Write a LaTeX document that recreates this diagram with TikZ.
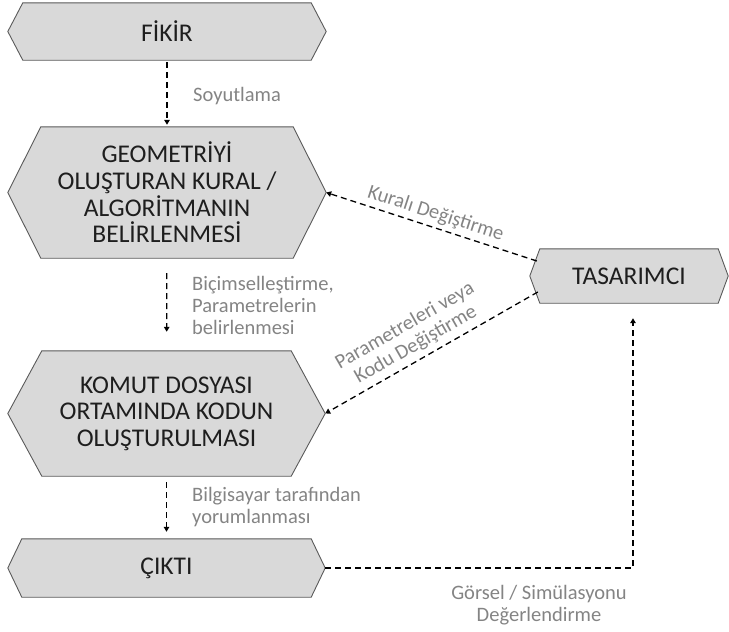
\documentclass[tikz,border=0pt]{standalone}
\usepackage{fontspec}
\setmainfont{Carlito}
\usetikzlibrary{calc,arrows.meta,backgrounds}
\definecolor{boxfill}{HTML}{D9D9D9}
\definecolor{boxline}{HTML}{5A5A5A}
\definecolor{lblcol}{HTML}{848484}
\definecolor{boxtxt}{HTML}{1E1E1E}
\newcommand\drawhex[2]{\filldraw[hexshape] (#1.west) -- ([xshift=#2pt]#1.north west) -- ([xshift=-#2pt]#1.north east) -- (#1.east) -- ([xshift=-#2pt]#1.south east) -- ([xshift=#2pt]#1.south west) -- cycle;}
\begin{document}
\begin{tikzpicture}[x=1pt,y=-1pt,
  hexshape/.style={fill=boxfill, draw=boxline, line width=0.9pt, line join=miter},
  boxnode/.style={inner sep=0pt, text=boxtxt, align=center, font=\fontsize{25.5}{26.6}\selectfont},
  lbl/.style={text=lblcol, font=\fontsize{20.5}{21.8}\selectfont, inner sep=2pt},
  conn/.style={draw=black, line width=1.3pt, dash pattern=on 6pt off 4pt, -{Triangle[length=5pt,width=5.5pt]}}]
\useasboundingbox (0,0) rectangle (729,632);
\node[boxnode, minimum width=318pt, minimum height=57pt] (fikir) at (167,31.5) {FİKİR};
\node[boxnode, minimum width=318pt, minimum height=131pt] (geom) at (167,192.5) {GEOMETRİYİ\\OLUŞTURAN KURAL /\\ALGORİTMANIN\\BELİRLENMESİ};
\node[boxnode, minimum width=317pt, minimum height=125pt] (komut) at (166.5,413.5) {KOMUT DOSYASI\\ORTAMINDA KODUN\\OLUŞTURULMASI};
\node[boxnode, minimum width=317pt, minimum height=58pt] (cikti) at (166.5,568) {ÇIKTI};
\node[boxnode, minimum width=198pt, minimum height=54pt] (tas) at (629,276) {TASARIMCI};
\begin{scope}[on background layer]
\drawhex{fikir}{15}
\drawhex{geom}{33}
\drawhex{komut}{34}
\drawhex{cikti}{14}
\drawhex{tas}{10}
\end{scope}
\draw[conn, shorten <=2pt, shorten >=2pt] (fikir) -- (geom);
\draw[conn, shorten <=15pt, shorten >=19pt] (geom) -- (komut);
\draw[conn, shorten <=6pt, shorten >=7pt] (komut) -- (cikti);
\node[lbl, anchor=west] (l1) at (191,96) {Soyutlama};
\node[lbl, anchor=west, align=left] (l2) at (190,305.5) {Biçimselleştirme,\\Parametrelerin\\belirlenmesi};
\node[lbl, anchor=west, align=left] (l3) at (190,507) {Bilgisayar tarafından\\yorumlanması};
\draw[conn] ($(tas.west)+(7,-15)$) -- (geom.east) node[lbl, midway, sloped, above, inner sep=4pt] {Kuralı Değiştirme};
\draw[conn] ($(tas.west)+(8,16)$) -- (komut.east) node[lbl, pos=0.54, sloped, above, align=center, inner sep=5pt] {Parametreleri veya\\Kodu Değiştirme};
\draw[conn, shorten >=15pt] (cikti.east) -| ($(tas.south)+(4,0)$);
\node[lbl, align=center] (l4) at (539,605) {Görsel / Simülasyonu\\Değerlendirme};
\end{tikzpicture}
\end{document}
